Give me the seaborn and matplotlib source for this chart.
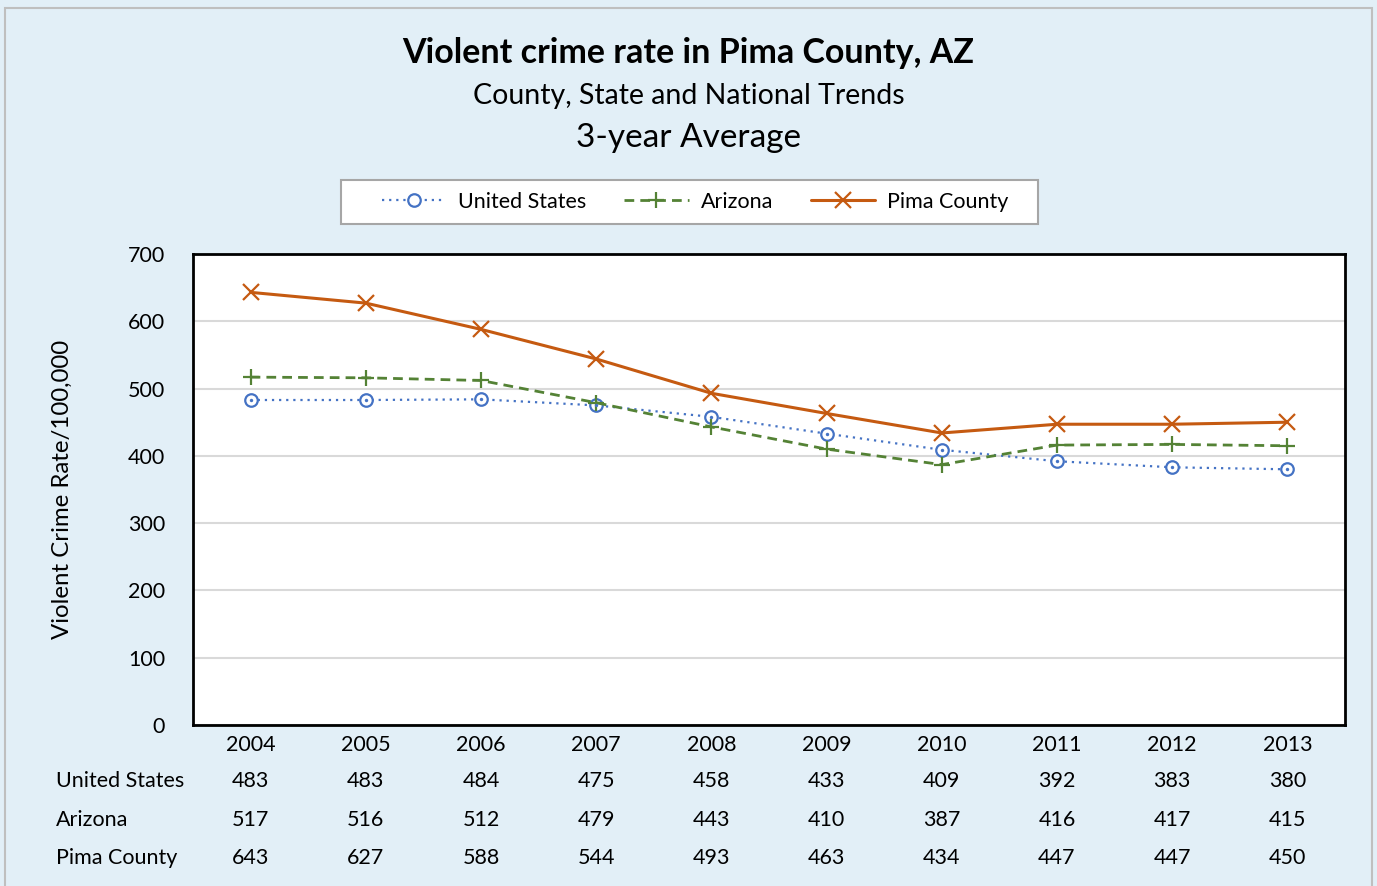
import matplotlib
matplotlib.use('Agg')
import matplotlib.pyplot as plt
import matplotlib.patches as mpatches
import numpy as np
import pandas
import seaborn as sns

YEARS = ['2004', '2005', '2006', '2007', '2008', '2009', '2010', '2011', '2012', '2013']
US = [483, 483, 484, 475, 458, 433, 409, 392, 383, 380]
AZ = [517, 516, 512, 479, 443, 410, 387, 416, 417, 415]
PIMA = [643, 627, 588, 544, 493, 463, 434, 447, 447, 450]
SERIES = ['United States', 'Arizona', 'Pima County']
COLORS = ['#4472C4', '#548235', '#C55A11']

BG = '#E2EFF7'
FS = 15.5
W, H = 1377, 886

sns.set_style('white')
plt.rcParams['font.family'] = ['Lato', 'DejaVu Sans']
for k in ['text.color', 'axes.labelcolor', 'xtick.color', 'ytick.color']:
    plt.rcParams[k] = 'black'

fig = plt.figure(figsize=(W/100, H/100), dpi=100, facecolor=BG)
ax = fig.add_axes([193/W, 1-725/H, (1345-193)/W, (725-254)/H])

plot_df = pandas.DataFrame({'x': np.tile(np.arange(len(YEARS)), 3),
    'value': US + AZ + PIMA,
    'series': np.repeat(SERIES, len(YEARS))})

# United States: dotted, open circle with a dot inside
us_df = plot_df[plot_df['series'] == SERIES[0]]
sns.lineplot(data=us_df, x='x', y='value', color=COLORS[0], lw=1.6, ax=ax,
    marker='o', ms=9, mfc='white', mec=COLORS[0], mew=1.6)
ax.lines[-1].set_dashes([1, 2.2])
sns.scatterplot(data=us_df, x='x', y='value', color=COLORS[0], s=6, ax=ax,
    linewidth=0, zorder=4)

az_df = plot_df[plot_df['series'] == SERIES[1]]
sns.lineplot(data=az_df, x='x', y='value', color=COLORS[1], lw=2, ax=ax,
    marker='+', ms=12, mec=COLORS[1], mew=1.6)
ax.lines[-1].set_dashes([3.5, 2.2])

pima_df = plot_df[plot_df['series'] == SERIES[2]]
sns.lineplot(data=pima_df, x='x', y='value', color=COLORS[2], lw=2.2, ax=ax,
    marker='x', ms=11, mec=COLORS[2], mew=1.6)

ax.set_xlim(-0.5, len(YEARS) - 0.5)
ax.set_ylim(0, 700)
ax.set_yticks(range(0, 701, 100))
ax.yaxis.grid(True, color='#D9D9D9', lw=1.5)
ax.set_axisbelow(True)
ax.set_xticks(range(len(YEARS)))
ax.set_xticklabels(YEARS)
ax.tick_params(axis='both', labelsize=FS, length=0, pad=7)
ax.tick_params(axis='y', pad=20)
ax.set_xlabel('')
ax.set_ylabel('Violent Crime Rate/100,000', fontsize=17.3, labelpad=40)
for s in ax.spines.values():
    s.set_color('black')
    s.set_linewidth(2)

# Data table under the chart
trans = matplotlib.transforms.blended_transform_factory(ax.transData, fig.transFigure)
for r, (name, vals) in enumerate(zip(SERIES, [US, AZ, PIMA])):
    y = 1 - (781 + r * 38.5) / H
    fig.text(56/W, y, name, fontsize=FS, ha='left', va='center')
    for i, v in enumerate(vals):
        ax.text(i, y, str(v), fontsize=FS, ha='center', va='center',
            transform=trans)

fig.text(0.5, 1-53/H, 'Violent crime rate in Pima County, AZ', fontsize=24.5,
    fontweight='bold', ha='center', va='center')
fig.text(0.5, 1-96/H, 'County, State and National Trends', fontsize=20.5,
    ha='center', va='center')
fig.text(0.5, 1-138/H, '3-year Average', fontsize=24,
    ha='center', va='center')

handles = [
    matplotlib.lines.Line2D([], [], color=COLORS[0], lw=1.6, dashes=[1, 2.2],
        marker='o', ms=9, mfc='white', mec=COLORS[0], mew=1.6),
    matplotlib.lines.Line2D([], [], color=COLORS[1], lw=2, dashes=[3.5, 2.2],
        marker='+', ms=12, mew=1.6),
    matplotlib.lines.Line2D([], [], color=COLORS[2], lw=2.2,
        marker='x', ms=11, mew=1.6),
]
# legend box drawn separately so it can be wider than the entries
fig.patches.append(mpatches.Rectangle((341/W, 1-224/H), (1038-341)/W, 44/H,
    transform=fig.transFigure, facecolor='white', edgecolor='#A6A6A6', lw=1.5))
leg = fig.legend(handles=handles, labels=SERIES, loc='center',
    bbox_to_anchor=(695/W, 1-202/H), ncol=3, fontsize=FS, frameon=False,
    handlelength=3.0, columnspacing=1.75, handletextpad=0.55, borderaxespad=0)

# outer border of the chart area
fig.patches.append(mpatches.Rectangle((5/W, -0.01), 1367/W, 1 - 8/H + 0.01,
    transform=fig.transFigure, fill=False, edgecolor='#BFBFBF', lw=1.5))

fig.savefig('out.png', dpi=100, facecolor=BG)
